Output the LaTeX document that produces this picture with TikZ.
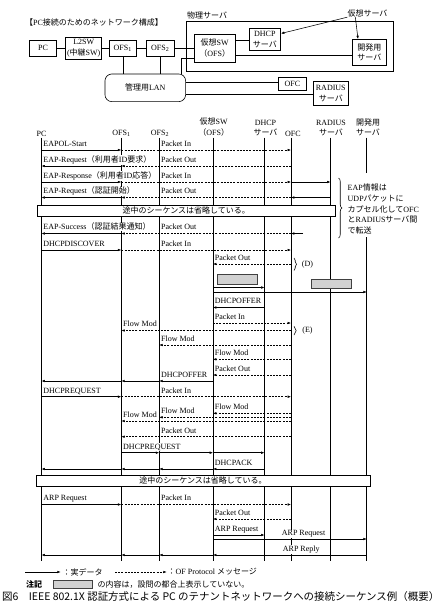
\documentclass[tikz,border=0pt]{standalone}
\usepackage{fontspec}
\usepackage{graphicx}
\setmainfont{Liberation Serif}
\newfontfamily\jpfont{Noto Sans CJK JP}
\usetikzlibrary{arrows.meta,decorations.pathreplacing}
\newcommand\jp[1]{{\jpfont #1}}
\newcommand\seqmsg[4][sol]{\draw[#1] (#2 |- 0,#4) -- (#3 |- 0,#4);}
\newcommand\seqlabel[4]{\node[seqlbl] (#1) at (#2 |- 0,#3) {#4};}
\begin{document}
\begin{tikzpicture}[x=1pt,y=-1pt,
  font=\fontsize{8}{10.7}\selectfont,
  box/.style={draw,line width=0.6pt,inner sep=0pt,align=center},
  conn/.style={line width=0.6pt},
  life/.style={line width=0.7pt},
  sol/.style={line width=0.55pt,-{Latex[length=3.4pt,width=2.6pt]}},
  das/.style={sol,dash pattern=on 2pt off 1.2pt},
  seqlbl/.style={anchor=base west,xshift=1.2pt,yshift=3.6pt,inner sep=0.5pt,fill=white},
  head/.style={anchor=south,inner sep=0pt,align=center},
  omit/.style={draw,fill=white,line width=0.7pt,inner sep=0pt},
  graybox/.style={draw=black!75,fill=black!18,line width=0.55pt,inner sep=0pt},
  bracedec/.style={decorate,decoration={brace,amplitude=#1},line width=0.55pt},
]
\useasboundingbox (0,0) rectangle (441,611);
\fill[white] (0,0) rectangle (441,611);

% ---------- network configuration ----------
\node[anchor=west,inner sep=0] (tTitle) at (25,22.7) {\jp{【}PC\jp{接続のためのネットワーク構成】}};
\node[anchor=west,inner sep=0] (tPhys) at (187,15) {\jp{物理サーバ}};
\node[inner sep=0] (tVS) at (367.5,13.3) {\jp{仮想サーバ}};
\node[draw,line width=0.6pt,minimum width=206.3,minimum height=49.3,inner sep=0] (nPhys) at (289.85,46.35) {};

\node[box,minimum width=27.4,minimum height=15.3] (nPC) at (43,48.3) {PC};
\node[box,minimum width=36,minimum height=22.3] (nL2) at (83.7,48.3) {L2SW\\(\jp{中継}SW)};
\node[box,minimum width=27.7,minimum height=15.3] (nO1) at (122.8,48.3) {OFS\textsubscript{1}};
\node[box,minimum width=27.3,minimum height=15.3] (nO2) at (160.3,48.3) {OFS\textsubscript{2}};
\node[box,minimum width=40.7,minimum height=28.7] (nVSW) at (214.7,48.3) {\jp{仮想}SW\\\jp{（}OFS\jp{）}};
\node[box,minimum width=31.7,minimum height=21.7] (nDHCP) at (264.8,39.2) {DHCP\\\jp{サーバ}};
\node[box,minimum width=33.3,minimum height=25.7] (nDEV) at (369.3,52.2) {\jp{開発用}\\\jp{サーバ}};
\node[box,rounded corners=7pt,minimum width=80.7,minimum height=27.7] (nLAN) at (145.3,87.8) {\jp{管理用}LAN};
\node[box,minimum width=28.4,minimum height=12.7] (nOFC) at (292.5,83.7) {OFC};
\node[box,minimum width=35,minimum height=23.3] (nRAD) at (330.8,93.3) {RADIUS\\\jp{サーバ}};

\draw[conn] (nPC) -- (nL2);
\draw[conn] (nL2) -- (nO1);
\draw[conn] (nO1) -- (nO2);
\draw[conn] (nO2) -- (nVSW);
\draw[conn] (nVSW.east |- 0,40) -- (nDHCP.west |- 0,40);
\draw[conn] (nVSW.east |- 0,55) -- (nDEV.west |- 0,55);
\draw[conn] (nO1) -- (nO1 |- nLAN.north);
\draw[conn] (nO2) -- (nO2 |- nLAN.north);
\draw[conn] (nVSW.west |- 0,58.3) -| (181,0 |- nLAN.north);
\draw[conn] (nLAN.east |- 0,82) -- (nOFC.west |- 0,82);
\draw[conn] (nLAN.east |- 0,94.3) -- (nRAD.west |- 0,94.3);
\draw[sol] (tVS.south west) -- (nDHCP.east |- 0,33.5);
\draw[sol] ([xshift=8pt]tVS.south west) -- (358,0 |- nDEV.north);

% ---------- sequence heads ----------
\node[head] (hPC) at (41.5,136.5) {PC};
\node[head] (hOFSa) at (121.5,136.5) {OFS\textsubscript{1}};
\node[head] (hOFSb) at (160,136.5) {OFS\textsubscript{2}};
\node[head] (hVSW) at (213.7,136.5) {\jp{仮想}SW\\\jp{（}OFS\jp{）}};
\node[head] (hDHCP) at (265.5,136.5) {DHCP\\\jp{サーバ}};
\node[head] (hOFC) at (293,136.5) {OFC};
\node[head] (hRAD) at (331,136.5) {RADIUS\\\jp{サーバ}};
\node[head] (hDEV) at (368,136.5) {\jp{開発用}\\\jp{サーバ}};

\coordinate (lPC) at (41.5,137.5);
\coordinate (lOFSa) at (121.3,137.5);
\coordinate (lOFSb) at (159.2,137.5);
\coordinate (lVSW) at (213,137.5);
\coordinate (lDHCP) at (264.5,137.5);
\coordinate (lOFC) at (291,137.5);
\coordinate (lRAD) at (330.5,137.5);
\coordinate (lDEV) at (366.8,137.5);

\foreach \l in {lPC,lOFSa,lOFSb,lVSW,lDHCP,lOFC,lRAD}
  \draw[life] (\l) -- (\l |- 0,561);
\draw[life] (lDEV) -- (lDEV |- 0,173);
\draw[life] (lDEV |- 0,237) -- (lDEV |- 0,561);

% ---------- messages ----------
% 1
\seqmsg{lPC}{lOFSa}{150}
\seqmsg[das]{lOFSa}{lOFC}{150}
\seqlabel{m1a}{lPC}{150}{EAPOL-Start}
\seqlabel{m1b}{lOFSb}{150}{Packet In}
% 2
\seqmsg[das]{lOFC}{lOFSa}{166}
\seqmsg{lOFSa}{lPC}{166}
\seqlabel{m2a}{lPC}{166}{EAP-Request\jp{（利用者}ID\jp{要求）}}
\seqlabel{m2b}{lOFSb}{166}{Packet Out}
% 3
\seqmsg{lPC}{lOFSa}{182}
\seqmsg[das]{lOFSa}{lOFC}{182}
\seqmsg{lOFC}{lRAD}{182}
\seqlabel{m3a}{lPC}{182}{EAP-Response\jp{（利用者}ID\jp{応答）}}
\seqlabel{m3b}{lOFSb}{182}{Packet In}
% 4
\seqmsg{lRAD}{lOFC}{197.5}
\seqmsg[das]{lOFC}{lOFSa}{197.5}
\seqmsg{lOFSa}{lPC}{197.5}
\seqlabel{m4a}{lPC}{197.5}{EAP-Request\jp{（認証開始）}}
\seqlabel{m4b}{lOFSb}{197.5}{Packet Out}
% omitted 1
\node[omit,minimum width=297.3,minimum height=11] (om1) at (186.3,210.5) {\jp{途中のシーケンスは省略している。}};
% 5
\coordinate (s5) at (303,233.5);
\draw[sol] (s5) -- (lOFC |- s5);
\seqmsg[das]{lOFC}{lOFSa}{233.5}
\seqmsg{lOFSa}{lPC}{233.5}
\seqlabel{m5a}{lPC}{233.5}{EAP-Success\jp{（認証結果通知）}}
\seqlabel{m5b}{lOFSb}{233.5}{Packet Out}
% 6
\seqmsg{lPC}{lOFSa}{250}
\seqmsg[das]{lOFSa}{lOFC}{250}
\seqlabel{m6a}{lPC}{250}{DHCPDISCOVER}
\seqlabel{m6b}{lOFSb}{250}{Packet In}
% 7
\seqmsg[das]{lOFC}{lVSW}{264}
\seqlabel{m7}{lVSW}{264}{Packet Out}
\draw[bracedec=2.5pt] (294,258) -- (294,270.5);
\node[inner sep=0] (tD) at (307.5,264.5) {(D)};
% 8
\node[graybox,minimum width=40,minimum height=10] (g1) at (237.3,279.3) {};
\seqmsg{lVSW}{lDHCP}{287.5}
\node[graybox,minimum width=40,minimum height=9.4] (g2) at (331.7,284) {};
\seqmsg{lVSW}{lDEV}{292}
% 9
\seqmsg{lDHCP}{lVSW}{307.5}
\seqlabel{m9}{lVSW}{307.5}{DHCPOFFER}
% 10
\seqmsg[das]{lVSW}{lOFC}{323}
\seqlabel{m10}{lVSW}{323}{Packet In}
% 11
\seqmsg[das]{lOFC}{lOFSa}{330.5}
\seqlabel{m11}{lOFSa}{330.5}{Flow Mod}
\draw[bracedec=2.2pt] (294,326.3) -- (294,335);
\node[inner sep=0] (tE) at (307.5,331) {(E)};
% 12
\seqmsg[das]{lOFC}{lOFSb}{345}
\seqlabel{m12}{lOFSb}{345}{Flow Mod}
% 13
\seqmsg[das]{lOFC}{lVSW}{359.3}
\seqlabel{m13}{lVSW}{359.3}{Flow Mod}
% 14
\seqmsg[das]{lOFC}{lVSW}{375}
\seqlabel{m14}{lVSW}{375}{Packet Out}
% 15
\seqmsg{lVSW}{lOFSb}{381}
\seqmsg{lOFSb}{lOFSa}{381}
\seqmsg{lOFSa}{lPC}{381}
\seqlabel{m15}{lOFSb}{381}{DHCPOFFER}
% 16
\seqmsg{lPC}{lOFSa}{396.7}
\seqmsg[das]{lOFSa}{lOFC}{396.7}
\seqlabel{m16a}{lPC}{396.7}{DHCPREQUEST}
\seqlabel{m16b}{lOFSb}{396.7}{Packet In}
% 17-19
\seqmsg[das]{lOFC}{lVSW}{413.3}
\seqlabel{m17}{lVSW}{413.3}{Flow Mod}
\seqmsg[das]{lOFC}{lOFSb}{417.3}
\seqlabel{m18}{lOFSb}{417.3}{Flow Mod}
\seqmsg[das]{lOFC}{lOFSa}{421}
\seqlabel{m19}{lOFSa}{421}{Flow Mod}
% 20
\seqmsg[das]{lOFC}{lOFSa}{436.7}
\seqlabel{m20}{lOFSb}{436.7}{Packet Out}
% 21
\seqmsg{lOFSa}{lOFSb}{452.7}
\seqmsg{lOFSb}{lVSW}{452.7}
\seqmsg{lVSW}{lDHCP}{452.7}
\seqlabel{m21}{lOFSa}{452.7}{DHCPREQUEST}
% 22
\seqmsg{lDHCP}{lVSW}{469}
\seqmsg{lVSW}{lOFSb}{469}
\seqmsg{lOFSb}{lOFSa}{469}
\seqmsg{lOFSa}{lPC}{469}
\seqlabel{m22}{lVSW}{469}{DHCPACK}
% omitted 2
\node[omit,minimum width=334,minimum height=11.7] (om2) at (203,480.85) {\jp{途中のシーケンスは省略している。}};
% 23
\seqmsg{lPC}{lOFSa}{504.5}
\seqmsg[das]{lOFSa}{lOFC}{504.5}
\seqlabel{m23a}{lPC}{504.5}{ARP Request}
\seqlabel{m23b}{lOFSb}{504.5}{Packet In}
% 24
\seqmsg[das]{lOFC}{lVSW}{519}
\seqlabel{m24}{lVSW}{519}{Packet Out}
% 25
\seqmsg{lVSW}{lDHCP}{535}
\seqlabel{m25}{lVSW}{535}{ARP Request}
% 26
\seqmsg{lVSW}{lDEV}{539}
\node[seqlbl] (m26) at (280,539) {ARP Request};
% 27
\seqmsg{lDEV}{lVSW}{555}
\seqmsg{lVSW}{lOFSb}{555}
\seqmsg{lOFSb}{lOFSa}{555}
\seqmsg{lOFSa}{lPC}{555}
\node[seqlbl] (m27) at (281,555) {ARP Reply};

% ---------- annotation ----------
\draw[bracedec=3.5pt] (338.5,178) -- (338.5,238);
\node[anchor=north west,inner sep=0,align=left,font=\fontsize{8}{10.9}\selectfont] (ann) at (347.5,183.3)
  {EAP\jp{情報は}\\UDP\jp{パケットに}\\\jp{カプセル化して}OFC\\\jp{と}RADIUS\jp{サーバ間}\\\jp{で転送}};

% ---------- legend ----------
\coordinate (lg1a) at (25,572);
\coordinate (lg1b) at (60.7,572);
\draw[sol] (lg1a) -- (lg1b);
\node[anchor=west,inner sep=0] (lgt1) at (62.5,572) {\jp{：実データ}};
\coordinate (lg2a) at (115,572);
\coordinate (lg2b) at (166.7,572);
\draw[das] (lg2a) -- (lg2b);
\node[anchor=west,inner sep=0] (lgt2) at (167.5,572) {\jp{：}OF Protocol \jp{メッセージ}};
\node[anchor=west,inner sep=0] (lgn) at (26,584.5) {{\jpfont\bfseries 注記}};
\node[graybox,minimum width=39.4,minimum height=8] (lgbox) at (73,584.5) {};
\node[anchor=west,inner sep=0] (lgt3) at (97.5,584.5) {\jp{の内容は，設問の都合上表示していない。}};

% ---------- caption ----------
\node[anchor=west,inner sep=0] (cap) at (2,597) {\resizebox{437pt}{!}{\jpfont 図6　IEEE 802.1X 認証方式による PC のテナントネットワークへの接続シーケンス例（概要）}};
\end{tikzpicture}
\end{document}
